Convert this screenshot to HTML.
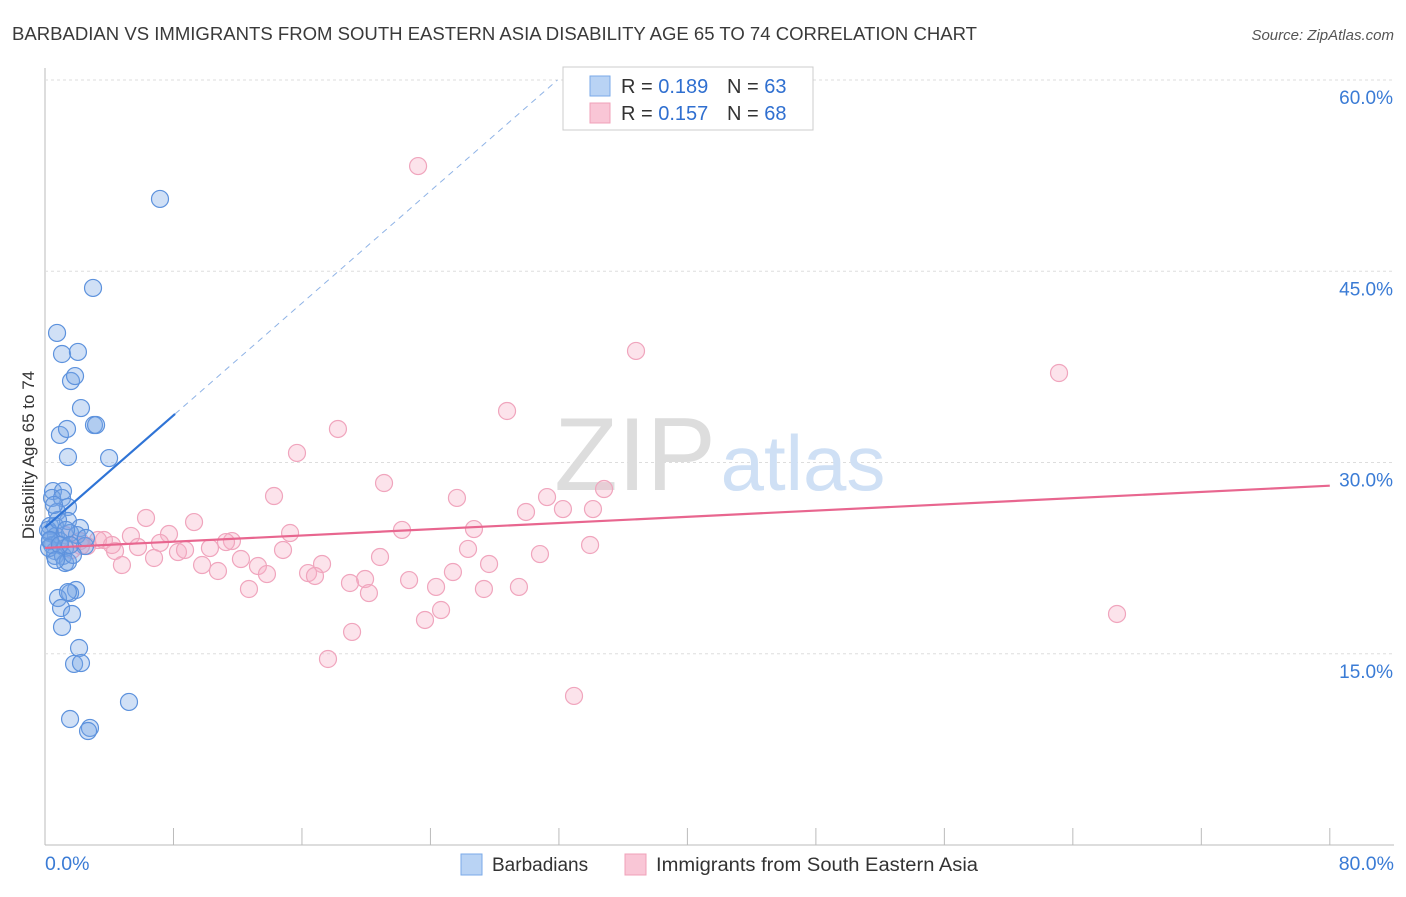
<!DOCTYPE html>
<html><head><meta charset="utf-8"><style>
body{margin:0;background:#fff;font-family:"Liberation Sans",sans-serif;}
svg text{font-family:"Liberation Sans",sans-serif;}
</style></head><body>
<svg id="c" width="1406" height="892">
<text x="12" y="40" font-size="18" fill="#3a3a3a" textLength="965" lengthAdjust="spacingAndGlyphs">BARBADIAN VS IMMIGRANTS FROM SOUTH EASTERN ASIA DISABILITY AGE 65 TO 74 CORRELATION CHART</text>
<text x="1394" y="40" font-size="15" fill="#555" text-anchor="end" font-style="italic">Source: ZipAtlas.com</text>
<g id="grid"></g>
<text x="635" y="490" font-size="104" fill="#ddd" text-anchor="middle" font-family="Liberation Serif">ZIP</text>
<text x="803" y="490" font-size="78" fill="#cfe0f5" text-anchor="middle">atlas</text>
<g id="pts"></g>
<g id="lines"></g>
<text transform="translate(34,455) rotate(-90)" font-size="17" fill="#333" text-anchor="middle">Disability Age 65 to 74</text>
<g>
<rect x="563" y="67" width="250" height="63" fill="#fff" stroke="#ccc"/>
<rect x="590" y="76" width="20" height="20" fill="#b9d3f4" stroke="#7aaae8"/>
<text x="621" y="93" font-size="20" fill="#333">R = <tspan fill="#2f6fd0">0.189</tspan></text>
<text x="727" y="93" font-size="20" fill="#333">N = <tspan fill="#2f6fd0">63</tspan></text>
<rect x="590" y="103" width="20" height="20" fill="#f9c6d6" stroke="#f0a0b8"/>
<text x="621" y="120" font-size="20" fill="#333">R = <tspan fill="#2f6fd0">0.157</tspan></text>
<text x="727" y="120" font-size="20" fill="#333">N = <tspan fill="#2f6fd0">68</tspan></text>
</g>
<g>
<rect x="461" y="854" width="21" height="21" fill="#b9d3f4" stroke="#7aaae8"/>
<text x="492" y="871" font-size="19" fill="#333">Barbadians</text>
<rect x="625" y="854" width="21" height="21" fill="#f9c6d6" stroke="#f0a0b8"/>
<text x="656" y="871" font-size="19" fill="#333" textLength="322" lengthAdjust="spacingAndGlyphs">Immigrants from South Eastern Asia</text>
</g>
</svg>
<script>
const xTicks=[0,8,16,24,32,40,48,56,64,72,80];
const yTicks=[15,30,45,60];
const blueX=[7.16,2.99,0.75,1.06,2.05,1.62,1.87,2.24,3.05,3.18,0.93,1.37,1.43,3.99,0.50,1.12,0.44,1.06,1.43,0.75,1.43,0.31,0.62,2.18,0.31,0.68,1.56,1.99,0.31,0.93,0.62,1.25,2.49,0.62,1.12,1.25,1.43,1.93,1.56,0.81,1.43,1.00,1.68,1.06,2.12,1.81,2.24,5.23,1.56,2.80,2.68,0.44,0.19,0.81,0.25,1.74,1.31,0.56,0.31,0.93,1.56,2.55,0.68];
const blueY=[50.67,43.69,40.16,38.51,38.67,36.39,36.78,34.27,32.94,32.94,32.16,32.63,30.43,30.35,27.76,27.76,27.22,27.22,26.51,26.12,25.41,25.02,25.02,24.86,24.47,24.24,24.47,24.31,23.84,23.84,23.06,23.29,23.45,22.67,22.67,22.12,22.20,20.00,19.76,19.37,19.84,18.59,18.12,17.10,15.45,14.20,14.27,11.22,9.88,9.18,8.94,23.53,24.71,25.49,23.29,22.75,24.71,26.67,23.92,23.53,23.53,24.08,22.35];
const pinkX=[23.23,36.80,63.14,28.77,18.24,15.69,21.11,14.26,25.65,31.26,34.81,29.95,32.25,34.12,6.29,9.28,22.23,26.71,15.26,7.72,5.35,3.67,11.64,7.16,2.62,1.25,2.24,4.36,5.79,8.28,8.72,10.27,11.27,14.82,26.34,30.82,33.94,20.86,6.79,12.20,13.26,17.25,4.79,9.78,10.77,13.82,16.38,16.81,27.65,25.40,19.93,18.99,22.67,24.35,29.51,27.33,12.70,20.17,24.66,23.66,19.12,17.62,66.75,32.94,3.30,2.18,1.68,4.17];
const pinkY=[53.25,38.75,37.02,34.04,32.63,30.75,28.39,27.37,27.22,27.29,27.92,26.12,26.35,26.35,25.65,25.33,24.71,24.78,24.47,24.39,24.24,23.92,23.84,23.69,23.45,24.31,23.45,23.06,23.37,22.98,23.14,23.29,23.76,23.14,23.22,22.82,23.53,22.59,22.51,22.43,21.88,22.04,21.96,21.96,21.49,21.25,21.33,21.10,22.04,21.41,20.86,20.55,20.78,20.24,20.24,20.08,20.08,19.76,18.43,17.65,16.71,14.59,18.12,11.69,23.92,23.84,23.14,23.53];
const blueTrend=[24.9,1.1]; // intercept, slope
const pinkTrend=[23.3,0.061];
const NS='http://www.w3.org/2000/svg';
const X=v=>45+v*16.06, Y=v=>845-v*12.75;
function mk(t,a,p){const e=document.createElementNS(NS,t);for(const k in a)e.setAttribute(k,a[k]);p.appendChild(e);return e;}
const g=document.getElementById('grid');
const ax=mk('line',{x1:45,y1:68,x2:45,y2:845,stroke:'#bbb'},g);


const bx=mk('line',{x1:45,y1:845,x2:1394,y2:845,stroke:'#bbb'},g);


yTicks.forEach(v=>{
 const l=mk('line',{x1:45,y1:Y(v),x2:1394,y2:Y(v),stroke:'#ddd','stroke-dasharray':'3,3'},g);
 
 
 const t=mk('text',{x:1393,y:Y(v)+24,'font-size':19,fill:'#3a7bd5','text-anchor':'end'},g);
 t.textContent=v.toFixed(1)+'%';
 
 
});
xTicks.forEach(v=>{
 const l=mk('line',{x1:X(v),y1:828,x2:X(v),y2:845,stroke:'#bbb'},g);
 
 
});
[[0,'start'],[80,'end']].forEach(([v,a])=>{
 const t=mk('text',{x:v?1394:45,y:870,'font-size':19.5,fill:'#3a7bd5','text-anchor':a},g);
 t.textContent=v.toFixed(1)+'%';
 
 
});
const P=document.getElementById('pts');
pinkX.forEach((x,i)=>{
 const c=mk('circle',{cx:X(x),cy:Y(pinkY[i]),r:8.5,fill:'rgba(247,175,198,0.35)',stroke:'#f0a5bd','stroke-width':1.2},P);
 
 
});
blueX.forEach((x,i)=>{
 const c=mk('circle',{cx:X(x),cy:Y(blueY[i]),r:8.5,fill:'rgba(120,165,230,0.35)',stroke:'#5d92dd','stroke-width':1.2},P);
 
 
});
const L=document.getElementById('lines');
const bs=mk('line',{x1:X(0),y1:Y(blueTrend[0]),x2:X(8.1),y2:Y(blueTrend[0]+blueTrend[1]*8.1),stroke:'#2f74d6','stroke-width':2.2},L);


const xe=(60-blueTrend[0])/blueTrend[1];
const bd=mk('line',{x1:X(8.1),y1:Y(blueTrend[0]+blueTrend[1]*8.1),x2:X(xe),y2:Y(60),stroke:'#8fb3e6','stroke-width':1,'stroke-dasharray':'6,5'},L);


const pl=mk('line',{x1:X(0),y1:Y(pinkTrend[0]),x2:X(80),y2:Y(pinkTrend[0]+pinkTrend[1]*80),stroke:'#e8668f','stroke-width':2.2},L);


</script>
</body></html>
